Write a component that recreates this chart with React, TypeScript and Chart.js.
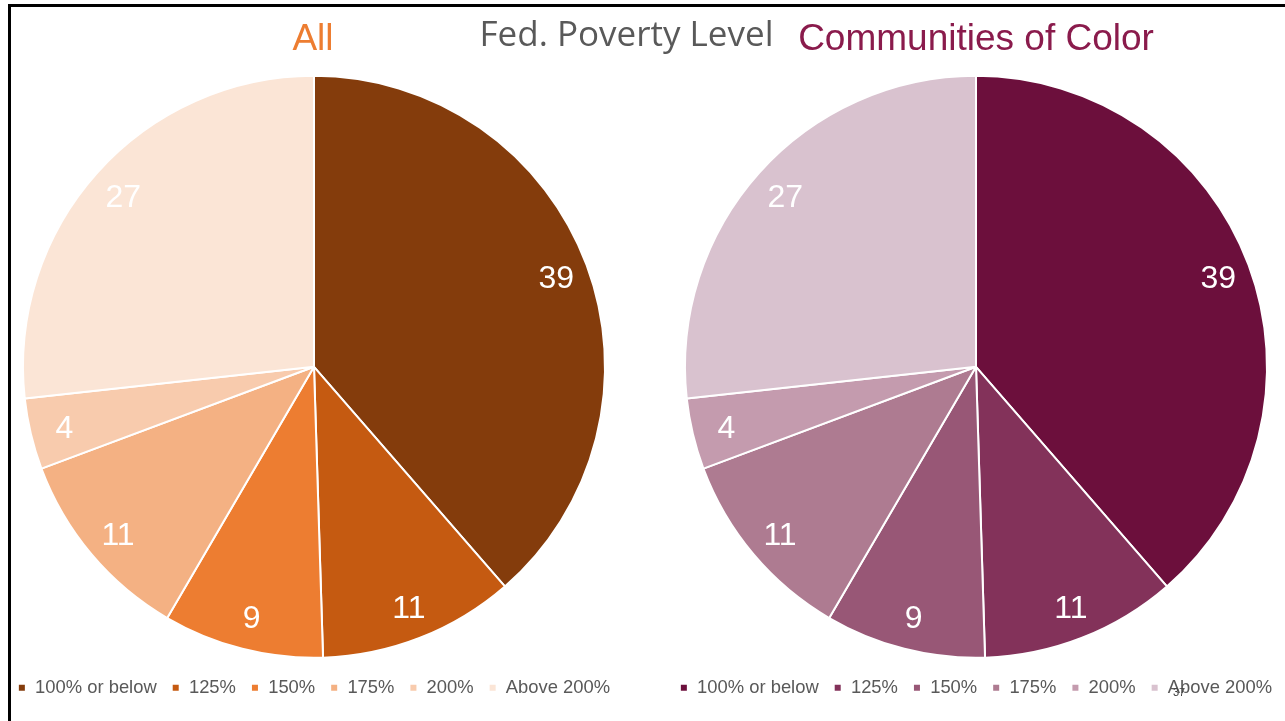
import React, { useEffect, useRef } from "react";
import { Chart, registerables } from "chart.js";

Chart.register(...registerables);

const categories = ["100% or below", "125%", "150%", "175%", "200%", "Above 200%"];
const allValues = [39, 11, 9, 11, 4, 27];
const cocValues = [39, 11, 9, 11, 4, 27];
const allColors = ["#843C0C", "#C55A11", "#ED7D31", "#F4B183", "#F8CBAD", "#FBE5D6"];
const cocColors = ["#6C0F3C", "#83325A", "#985776", "#AE7B91", "#C49BAE", "#D9C2CF"];

const FONT = "'Liberation Sans', Arial, Helvetica, sans-serif";

const labelPlugin = {
  id: "sliceLabels",
  afterDatasetsDraw(chart: any) {
    const ctx = chart.ctx;
    const meta = chart.getDatasetMeta(0);
    const data = chart.data.datasets[0].data;
    ctx.save();
    ctx.fillStyle = "#ffffff";
    ctx.font = `32px ${FONT}`;
    ctx.textAlign = "center";
    ctx.textBaseline = "middle";
    meta.data.forEach((el: any, i: number) => {
      const { x, y, startAngle, endAngle, outerRadius } = el.getProps(
        ["x", "y", "startAngle", "endAngle", "outerRadius"],
        true
      );
      const mid = (startAngle + endAngle) / 2;
      const r = outerRadius * 0.885;
      ctx.fillText(String(data[i]), x + Math.cos(mid) * r + 1, y + Math.sin(mid) * r + 3);
    });
    ctx.restore();
  },
};

function PieChart({ values, colors, left, width }: { values: number[]; colors: string[]; left: number; width: number }) {
  const ref = useRef<HTMLCanvasElement | null>(null);
  useEffect(() => {
    if (!ref.current) return;
    const chart = new Chart(ref.current, {
      type: "pie",
      data: {
        labels: categories,
        datasets: [
          {
            data: values,
            backgroundColor: colors,
            borderColor: "#ffffff",
            borderWidth: 2,
            radius: 291,
          } as any,
        ],
      },
      options: {
        responsive: false,
        animation: false,
        layout: { padding: { top: 70, bottom: 14, left: 0, right: 0 } },
        plugins: {
          legend: {
            display: true,
            position: "bottom",
            labels: {
              boxWidth: 8,
              boxHeight: 8,
              padding: 15,
              color: "#595959",
              font: { size: 18.4, family: FONT },
            },
          },
          tooltip: { enabled: false },
          title: { display: false },
        },
      } as any,
      plugins: [labelPlugin],
    });
    return () => chart.destroy();
  }, []);
  return (
    <canvas
      ref={ref}
      width={width}
      height={721}
      style={{ position: "absolute", left, top: 0, width, height: 721 }}
    />
  );
}

export default function App() {
  return (
    <div
      style={{
        position: "absolute",
        left: 0,
        top: 0,
        width: 1285,
        height: 721,
        overflow: "hidden",
        background: "#ffffff",
      }}
    >
      <div style={{ position: "absolute", left: 8, top: 4, width: 1285, height: 3, background: "#000" }} />
      <div style={{ position: "absolute", left: 8, top: 4, width: 3, height: 721, background: "#000" }} />
      <PieChart values={allValues} colors={allColors} left={0} width={628} />
      <PieChart values={cocValues} colors={cocColors} left={662} width={628} />
      <div
        style={{
          position: "absolute",
          left: 113,
          top: 18.7,
          width: 400,
          textAlign: "center",
          fontFamily: FONT,
          fontSize: 37,
          lineHeight: "37px",
          color: "#ED7D31",
          whiteSpace: "nowrap",
        }}
      >
        All
      </div>
      <div
        style={{
          position: "absolute",
          left: 426.5,
          top: 14.6,
          width: 400,
          textAlign: "center",
          fontFamily: "'Open Sans', sans-serif",
          fontSize: 35,
          lineHeight: "35px",
          color: "#595959",
          whiteSpace: "nowrap",
        }}
      >
        Fed. Poverty Level
      </div>
      <div
        style={{
          position: "absolute",
          left: 776,
          top: 18.7,
          width: 400,
          textAlign: "center",
          fontFamily: FONT,
          fontSize: 37,
          lineHeight: "37px",
          color: "#8A1B4C",
          whiteSpace: "nowrap",
        }}
      >
        Communities of Color
      </div>
      <div
        style={{
          position: "absolute",
          left: 1173,
          top: 687,
          fontFamily: FONT,
          fontSize: 11,
          lineHeight: "11px",
          color: "#404040",
        }}
      >
        37
      </div>
    </div>
  );
}
